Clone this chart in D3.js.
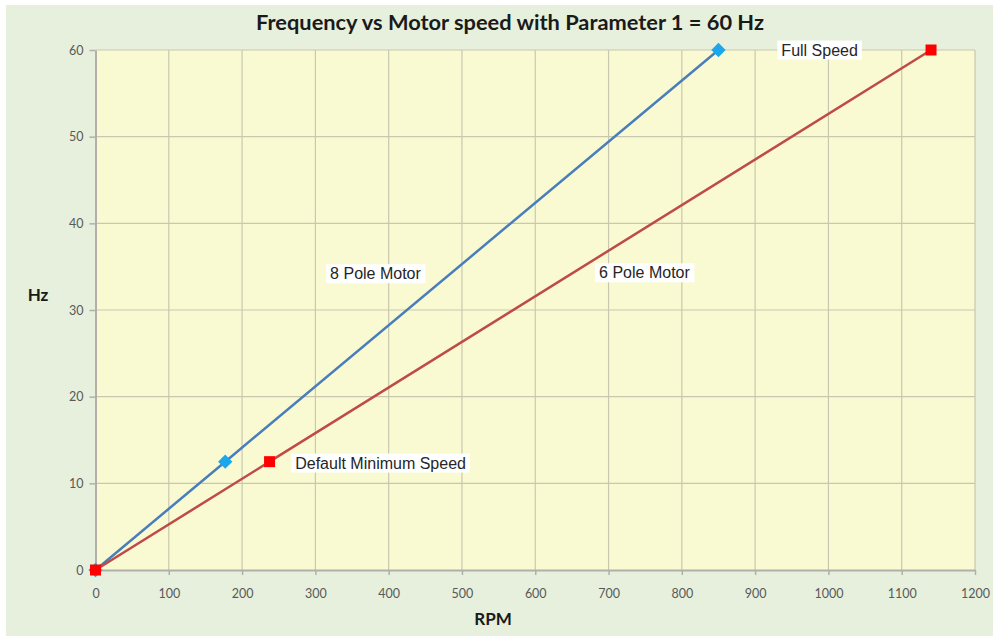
<!DOCTYPE html>
<html><head><meta charset="utf-8">
<script src="https://cdn.jsdelivr.net/npm/d3@7"></script>
<style>body{margin:0;background:#fff}svg{display:block}</style>
</head><body>
<script>
const xTicks = [0,100,200,300,400,500,600,700,800,900,1000,1100,1200];
const yTicks = [0,10,20,30,40,50,60];
const pole8 = [[0,0],[177,12.5],[850,60]];
const pole6 = [[0,0],[237.5,12.5],[1140,60]];
const labels = [
  {text:"Full Speed", x:988, y:60},
  {text:"8 Pole Motor", x:382, y:34.2},
  {text:"6 Pole Motor", x:749, y:34.3},
  {text:"Default Minimum Speed", x:389, y:12.35}
];

const W=995,H=636;
const svg=d3.select("body").append("svg").attr("width",W).attr("height",H);
svg.append("rect").attr("x",6).attr("y",5).attr("width",W-8).attr("height",H-5).attr("fill","#e6f0dd");
const x=d3.scaleLinear().domain([0,1200]).range([95.5,975]);
const y=d3.scaleLinear().domain([0,60]).range([570,50]);
svg.append("rect").attr("x",x(0)).attr("y",y(60)).attr("width",x(1200)-x(0)).attr("height",y(0)-y(60)).attr("fill","#fafad2");
// grid
svg.append("g").selectAll("line").data(xTicks.slice(1)).join("line")
  .attr("x1",d=>x(d)).attr("x2",d=>x(d)).attr("y1",y(60)).attr("y2",y(0)).attr("stroke","#c8c8b0").attr("stroke-width",1.2);
svg.append("g").selectAll("line").data(yTicks.slice(1)).join("line")
  .attr("y1",d=>y(d)).attr("y2",d=>y(d)).attr("x1",x(0)).attr("x2",x(1200)).attr("stroke","#c8c8b0").attr("stroke-width",1.2);
// axes
const xa=svg.append("g").attr("transform",`translate(0,${y(0)})`).call(d3.axisBottom(x).tickValues(xTicks).tickFormat(d3.format("d")).tickSize(5).tickSizeOuter(0).tickPadding(14));
const ya=svg.append("g").attr("transform",`translate(${x(0)},0)`).call(d3.axisLeft(y).tickValues(yTicks).tickFormat(d3.format("d")).tickSize(6).tickSizeOuter(0).tickPadding(6));
[xa,ya].forEach(a=>{
  a.select(".domain").attr("stroke","#b0b0a8").attr("stroke-width",2);
  a.selectAll(".tick line").attr("stroke","#b0b0a8").attr("stroke-width",1.5);
  a.selectAll("text").attr("fill","#595959").style("font-family","Lato, 'Open Sans', sans-serif").style("font-size","12.5px");
});
// lines
const line=d3.line().x(d=>x(d[0])).y(d=>y(d[1]));
svg.append("path").datum(pole8).attr("d",line).attr("fill","none").attr("stroke","#4a7ebb").attr("stroke-width",2.5);
svg.append("path").datum(pole6).attr("d",line).attr("fill","none").attr("stroke","#be4b48").attr("stroke-width",2.5);
// markers
svg.append("g").selectAll("path").data(pole8).join("path")
  .attr("transform",d=>`translate(${x(d[0])},${y(d[1])})`)
  .attr("d",d3.symbol().type(d3.symbolDiamond2).size(130)).attr("fill","#1aa7ec");
svg.append("g").selectAll("rect").data(pole6).join("rect")
  .attr("x",d=>x(d[0])-5.5).attr("y",d=>y(d[1])-5.5).attr("width",11).attr("height",11).attr("fill","#ff0000");
// labels
labels.forEach(l=>{
  const g=svg.append("g");
  const t=g.append("text").attr("x",x(l.x)).attr("y",y(l.y)).attr("dy","0.35em").attr("text-anchor","middle")
    .style("font-family","'Liberation Sans', Arial, sans-serif").style("font-size","16px").attr("fill","#262626").text(l.text);
  const b=t.node().getBBox();
  g.insert("rect","text").attr("x",b.x-4).attr("y",b.y-1).attr("width",b.width+8).attr("height",b.height+2).attr("fill","#fff");
});
// titles
svg.append("text").attr("x",510).attr("y",30).attr("text-anchor","middle").style("font-family","Lato, sans-serif").style("font-weight","bold").style("font-size","21.8px").attr("fill","#1a1a1a").text("Frequency vs Motor speed with Parameter 1 = 60 Hz");
svg.append("text").attr("x",38).attr("y",301).attr("text-anchor","middle").style("font-family","Lato, sans-serif").style("font-weight","bold").style("font-size","17px").attr("fill","#1a1a1a").text("Hz");
svg.append("text").attr("x",493).attr("y",625).attr("text-anchor","middle").style("font-family","Lato, sans-serif").style("font-weight","bold").style("font-size","17px").attr("fill","#1a1a1a").text("RPM");
</script>
</body></html>
